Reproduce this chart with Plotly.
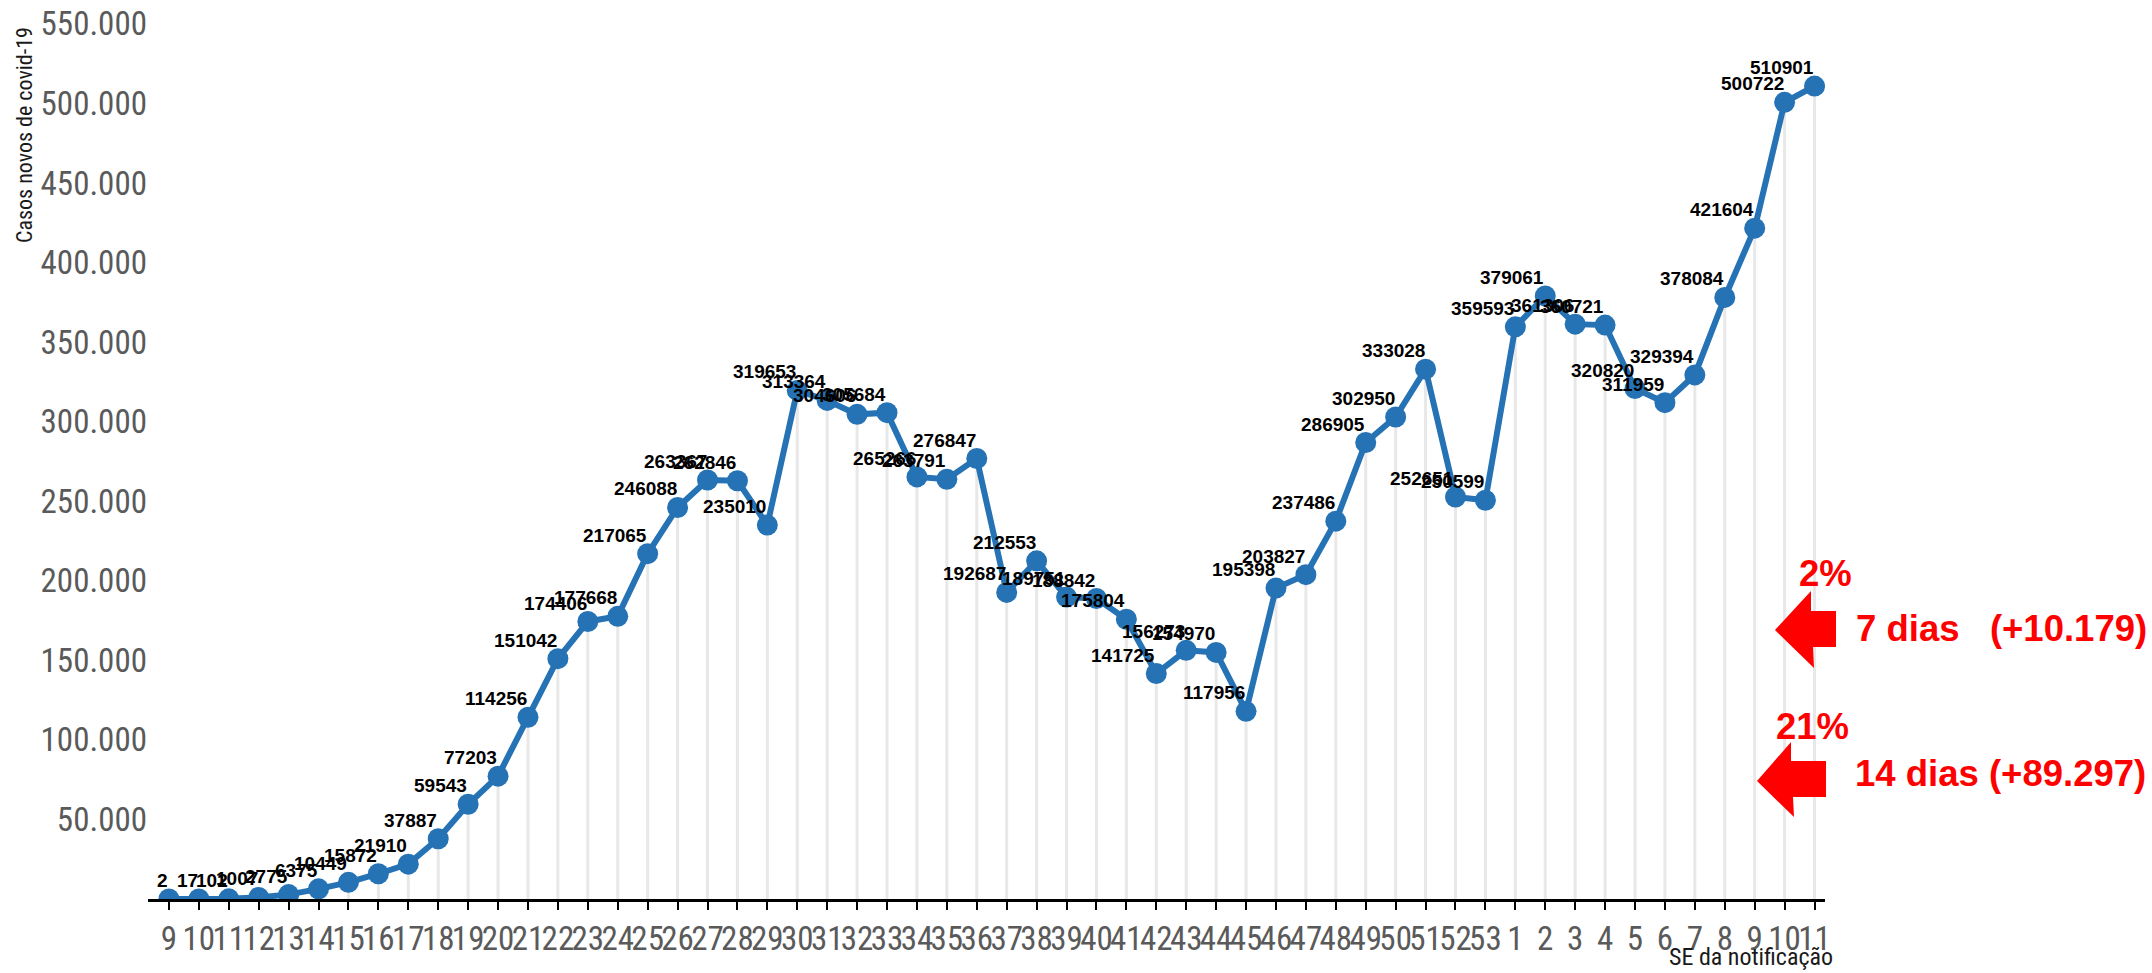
import plotly.graph_objects as go

# Semana epidemiológica (2020: 9..53, 2021: 1..11)
weeks = [9, 10, 11, 12, 13, 14, 15, 16, 17, 18, 19, 20, 21, 22, 23, 24, 25, 26, 27, 28,
         29, 30, 31, 32, 33, 34, 35, 36, 37, 38, 39, 40, 41, 42, 43, 44, 45, 46, 47, 48,
         49, 50, 51, 52, 53, 1, 2, 3, 4, 5, 6, 7, 8, 9, 10, 11]

cases = [2, 17, 102, 1007, 2775, 6375, 10449, 15872, 21910, 37887, 59543, 77203, 114256,
         151042, 174406, 177668, 217065, 246088, 263367, 262846, 235010, 319653, 313364,
         304606, 305684, 265266, 263791, 276847, 192687, 212553, 189751, 188842, 175804,
         141725, 156273, 154970, 117956, 195398, 203827, 237486, 286905, 302950, 333028,
         252651, 250599, 359593, 379061, 361306, 360721, 320820, 311959, 329394, 378084,
         421604, 500722, 510901]

y_ticks = [50000, 100000, 150000, 200000, 250000, 300000, 350000, 400000, 450000, 500000, 550000]
y_ticktext = [f"{v:,}".replace(",", ".") for v in y_ticks]

red_notes = ["2%", "7 dias   (+10.179)", "21%", "14 dias (+89.297)"]

# ---- layout geometry (pixels) ----
W, H = 2152, 973
L, R, T, B = 148, 327, 8, 74
PW, PH = W - L - R, H - T - B


def px(x):
    return (x - L) / PW


def py(y):
    return (H - B - y) / PH


NARROW = "Liberation Sans Narrow, Arial Narrow, Roboto Condensed, Liberation Sans, Arial"
ARIAL = "Liberation Sans, Arial, sans-serif"

idx = list(range(len(weeks)))

fig = go.Figure()

# drop lines from each point to the axis
dx, dy = [], []
for i, v in zip(idx, cases):
    dx += [i, i, None]
    dy += [0, v, None]
fig.add_trace(go.Scatter(x=dx, y=dy, mode="lines",
                         line=dict(color="#e8e8e8", width=3),
                         hoverinfo="skip", showlegend=False))

fig.add_trace(go.Scatter(x=idx, y=cases, mode="lines+markers",
                         line=dict(color="#2572b5", width=6),
                         marker=dict(color="#2572b5", size=21),
                         showlegend=False))

annotations = []
for i, v in zip(idx, cases):
    annotations.append(dict(x=i, y=v, xref="x", yref="y", text=str(v),
                            xanchor="right", yanchor="bottom", yshift=7,
                            showarrow=False, borderpad=0,
                            font=dict(size=19, color="black", family=ARIAL, weight="bold")))

# axis titles
annotations.append(dict(x=px(24), y=py(25), xref="paper", yref="paper",
                        text="Casos novos de covid-19", textangle=-90,
                        xanchor="center", yanchor="top", showarrow=False,
                        font=dict(size=22, color="#1a1a1a", family=NARROW)))
annotations.append(dict(x=px(1834), y=py(972), xref="paper", yref="paper",
                        text="SE da notificação", xanchor="right", yanchor="bottom",
                        showarrow=False, borderpad=0,
                        font=dict(size=24, color="#1a1a1a", family=NARROW)))

# red notes
note_pos = [(1797, 573), (1854, 628), (1774, 726), (1853, 773)]
for t, (x0, y0) in zip(red_notes, note_pos):
    annotations.append(dict(x=px(x0), y=py(y0), xref="paper", yref="paper", text=t,
                            xanchor="left", yanchor="middle", showarrow=False,
                            font=dict(size=36.5, color="#ff0000", family=ARIAL, weight="bold")))

# red block arrows (pixel outlines)
arrows = [
    [(1775, 630), (1811, 591), (1811, 611), (1836, 611), (1836, 647), (1813, 647), (1814, 668)],
    [(1757, 781), (1791, 742), (1791, 761), (1826, 761), (1826, 797), (1793, 797), (1794, 817)],
]
shapes = []
for pts in arrows:
    path = "M " + " L ".join(f"{px(a):.5f},{py(b):.5f}" for a, b in pts) + " Z"
    shapes.append(dict(type="path", path=path, xref="paper", yref="paper",
                       fillcolor="#ff0000", line=dict(width=0)))

fig.update_layout(
    width=W, height=H,
    margin=dict(l=L, r=R, t=T, b=B, autoexpand=False),
    paper_bgcolor="white", plot_bgcolor="white",
    annotations=annotations, shapes=shapes,
    xaxis=dict(range=[-0.7, 55.35], tickmode="array", tickvals=idx,
               ticktext=[str(w) for w in weeks], tickangle=0, automargin=False,
               showgrid=False, zeroline=False,
               showline=True, linecolor="black", linewidth=3,
               ticks="outside", ticklen=8, tickwidth=2, tickcolor="black",
               tickfont=dict(size=33, color="#5a5a5a", family=NARROW)),
    yaxis=dict(range=[0, 560000], tickmode="array", tickvals=y_ticks, ticktext=y_ticktext,
               automargin=False, showgrid=False, zeroline=False, showline=False, ticks="",
               tickfont=dict(size=33, color="#5a5a5a", family=NARROW)),
)

fig.write_html("out.html", config={"displayModeBar": False},
               post_script="document.body.style.margin='0';document.body.style.overflow='hidden';")
